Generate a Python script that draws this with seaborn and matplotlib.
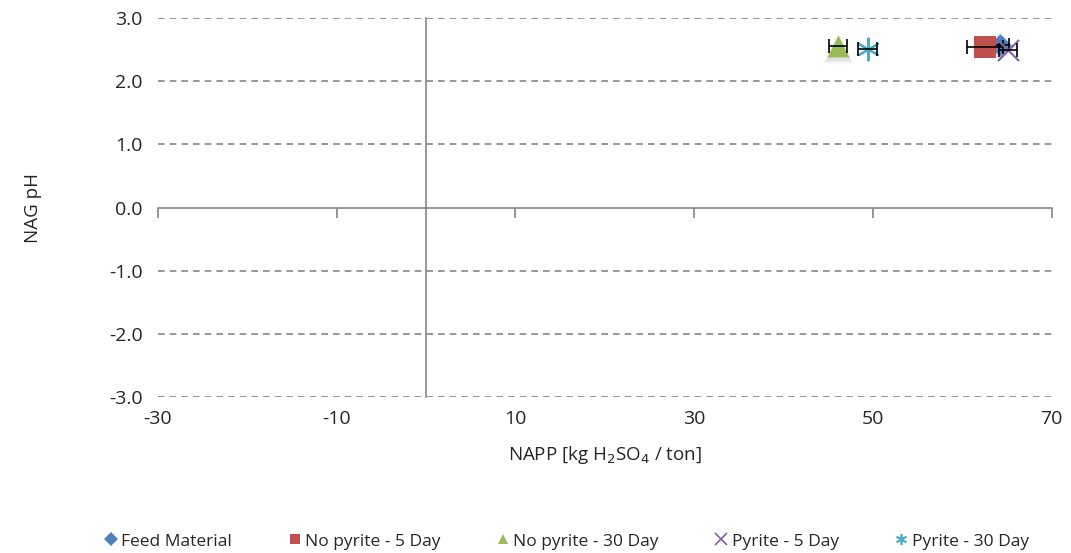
import matplotlib
matplotlib.use("Agg")
import matplotlib.pyplot as plt
import seaborn as sns
from matplotlib.lines import Line2D

# podaci ocitani sa grafika
series = ['Feed Material', 'No pyrite - 5 Day', 'No pyrite - 30 Day', 'Pyrite - 5 Day', 'Pyrite - 30 Day']
napp = [64.2, 62.5, 46.1, 65.1, 49.4]
nag_ph = [2.57, 2.54, 2.55, 2.50, 2.51]
napp_err = [1.0, 2.0, 1.0, 1.0, 1.1]

colors = ['#4F81BD', '#C0504D', '#9BBB59', '#8064A2', '#4BACC6']
markers = ['D', 's', '^', 'x', (6, 2, 0)]
sizes = [130, 230, 250, 230, 250]
shadow = [True, False, True, False, False]

sns.set_style("white")
plt.rcParams['font.family'] = ['Open Sans', 'DejaVu Sans']

fig = plt.figure(figsize=(10.71, 5.53), dpi=100)
ax = fig.add_axes([0.1475, 0.282, 0.8345, 0.6855])

for i, name in enumerate(series):
    z = 3 + i * 2
    if shadow[i]:
        for k, a in [(2.0, 0.05), (1.6, 0.08), (1.3, 0.1)]:
            ax.scatter([napp[i]], [nag_ph[i] - 0.02], s=sizes[i] * k, marker=markers[i],
                       color='gray', alpha=a, linewidths=0, zorder=z - 0.5)
    lw = 1.5 if markers[i] in ('x', (6, 2, 0)) else 0
    sns.scatterplot(x=[napp[i]], y=[nag_ph[i]], marker=markers[i], color=colors[i],
                    s=sizes[i], linewidth=lw, edgecolor=colors[i] if lw == 0 else None,
                    ax=ax, zorder=z, label=name, legend=False)
    ax.errorbar([napp[i]], [nag_ph[i]], xerr=[napp_err[i]], fmt='none', ecolor='black',
                elinewidth=1.2, capsize=5, capthick=1.2, zorder=z + 1)

ax.set_xlim(-30, 70)
ax.set_ylim(-3, 3)
ax.set_xticks([-30, -10, 10, 30, 50, 70])
ax.set_yticks([-3, -2, -1, 0, 1, 2, 3])

# osi kroz nulu
for s in ['top', 'right']:
    ax.spines[s].set_visible(False)
ax.spines['bottom'].set_position(('data', 0))
ax.spines['left'].set_position(('data', 0))
ax.spines['bottom'].set_color('#868686')
ax.spines['left'].set_color('#868686')
ax.spines['bottom'].set_linewidth(1.2)
ax.spines['left'].set_linewidth(1.2)
ax.tick_params(axis='x', bottom=True, direction='out', length=7, width=1.2, color='#868686', labelbottom=False)
ax.tick_params(axis='y', left=False, length=0, labelleft=False)

for yv in [-3, -2, -1, 1, 2, 3]:
    ax.axhline(yv, color='#868686', linestyle=(0, (4, 3)), linewidth=1.2, zorder=1)

# oznake na ivicama
sec_x = ax.secondary_xaxis('bottom')
sec_x.set_xticks([-30, -10, 10, 30, 50, 70])
sec_x.set_xticklabels(['-30', '-10', '10', '30', '50', '70'])
sec_x.spines['bottom'].set_visible(False)
sec_x.tick_params(length=0, pad=9, labelsize=14)

sec_y = ax.secondary_yaxis('left')
sec_y.set_yticks([-3, -2, -1, 0, 1, 2, 3])
sec_y.set_yticklabels([f'{v:.1f}' for v in [-3, -2, -1, 0, 1, 2, 3]])
sec_y.spines['left'].set_visible(False)
sec_y.tick_params(length=0, pad=11, labelsize=14)

sec_x.set_xlabel('NAPP [kg H$_2$SO$_4$ / ton]', fontsize=13.5, labelpad=12)
sec_y.set_ylabel('NAG pH', fontsize=13.5, labelpad=48)

handles = [Line2D([], [], linestyle='none', marker=markers[i], color=colors[i],
                  markersize=7 if i < 3 else 8, markeredgewidth=1.2 if i >= 3 else 0)
           for i in range(len(series))]
fig.legend(handles, series, loc='lower center', bbox_to_anchor=(0.528, -0.022), ncol=5,
           frameon=False, fontsize=12.5, handletextpad=0.1, columnspacing=3.1, handlelength=1.0)

plt.savefig('out.png', dpi=100)
